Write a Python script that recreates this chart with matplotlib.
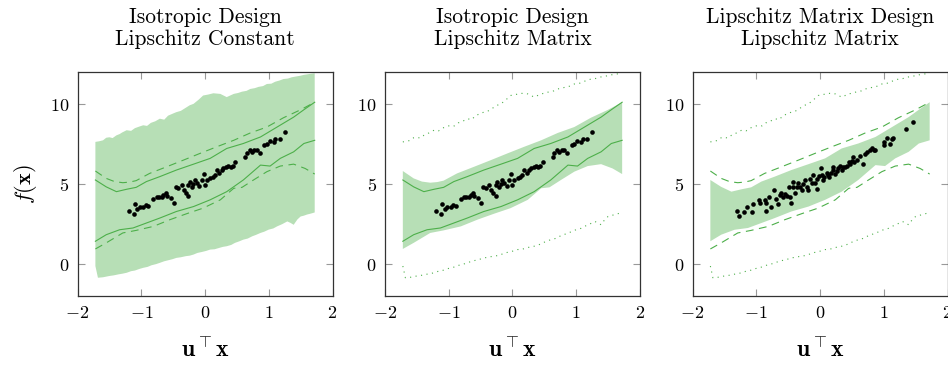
# Lipschitz bounds: isotropic vs Lipschitz-matrix designs, three panels side by side
import numpy as np
import matplotlib
matplotlib.use('Agg')
import matplotlib.pyplot as plt

plt.rcParams['font.family'] = 'cmr10'
plt.rcParams['mathtext.fontset'] = 'cm'
plt.rcParams['axes.formatter.use_mathtext'] = True

# data points, isotropic design (panels 1 and 2)
iso_x = [-1.197, -1.118, -1.102, -1.066, -1.024, -0.971, -0.929, -0.892, -0.814, -0.761,
         -0.724, -0.682, -0.656, -0.614, -0.604, -0.535, -0.488, -0.457, -0.420, -0.367,
         -0.331, -0.299, -0.262, -0.262, -0.236, -0.210, -0.184, -0.157, -0.131, -0.089,
         -0.052, -0.016, 0.000, 0.026, 0.079, 0.121, 0.157, 0.184, 0.226, 0.262,
         0.289, 0.331, 0.367, 0.404, 0.436, 0.472, 0.630, 0.656, 0.698, 0.735,
         0.772, 0.814, 0.856, 0.929, 0.971, 1.013, 1.076, 1.102, 1.171, 1.249]
iso_y = [3.35, 3.15, 3.79, 3.48, 3.62, 3.62, 3.71, 3.66, 4.08, 4.20,
         4.24, 4.20, 4.35, 4.49, 4.29, 4.14, 3.87, 4.87, 4.76, 4.97,
         4.66, 4.45, 4.29, 4.97, 5.18, 4.87, 5.03, 5.28, 5.07, 4.91,
         5.28, 5.65, 4.97, 5.28, 5.38, 5.49, 5.59, 5.90, 5.69, 5.90,
         6.00, 6.07, 6.15, 6.07, 6.15, 6.42, 6.69, 6.94, 7.14, 7.04,
         7.18, 7.14, 6.98, 7.45, 7.56, 7.72, 7.66, 7.87, 7.87, 8.28]

# data points, Lipschitz matrix design (panel 3)
lip_x = [-1.300, -1.274, -1.200, -1.147, -1.063, -1.053, -0.958, -0.947, -0.868, -0.853,
         -0.842, -0.800, -0.763, -0.726, -0.695, -0.658, -0.632, -0.605, -0.579, -0.553,
         -0.516, -0.484, -0.474, -0.463, -0.421, -0.421, -0.395, -0.368, -0.342, -0.316,
         -0.289, -0.274, -0.237, -0.211, -0.184, -0.158, -0.132, -0.105, -0.079, -0.053,
         -0.042, -0.011, 0.011, 0.026, 0.053, 0.063, 0.105, 0.132, 0.147, 0.174,
         0.200, 0.211, 0.237, 0.263, 0.289, 0.316, 0.342, 0.368, 0.395, 0.421,
         0.447, 0.474, 0.500, 0.516, 0.526, 0.579, 0.632, 0.674, 0.711, 0.737,
         0.779, 0.816, 0.842, 0.868, 1.000, 1.011, 1.053, 1.105, 1.132, 1.147,
         1.347, 1.463]
lip_y = [3.35, 3.06, 3.25, 3.62, 3.25, 3.79, 4.04, 3.83, 4.04, 3.37,
         3.87, 4.20, 3.62, 4.66, 4.08, 3.79, 4.35, 4.49, 4.24, 4.41,
         4.29, 4.87, 4.24, 3.83, 5.18, 4.87, 4.45, 4.82, 5.11, 4.87,
         4.66, 5.03, 5.28, 4.87, 4.66, 5.32, 5.11, 5.59, 5.07, 4.70,
         5.32, 5.53, 6.00, 5.59, 5.28, 5.45, 5.73, 5.59, 5.49, 5.69,
         6.07, 5.90, 5.65, 5.86, 6.00, 6.15, 5.90, 6.07, 6.07, 6.15,
         6.42, 6.31, 6.48, 6.73, 6.42, 6.52, 6.77, 6.31, 6.89, 7.04,
         7.18, 7.31, 7.18, 7.18, 7.66, 7.45, 7.93, 7.56, 7.87, 7.93,
         8.49, 8.90]

a_up_x = [-1.72, -1.66, -1.60, -1.55, -1.50, -1.45, -1.39, -1.34, -1.30, -1.23, -1.16,
          -1.10, -1.03, -0.97, -0.91, -0.85, -0.78, -0.71, -0.64, -0.58, -0.51, -0.45,
          -0.38, -0.30, -0.24, -0.18, -0.10, -0.03, 0.05, 0.13, 0.24, 0.34, 0.45,
          0.52, 0.58, 0.65, 0.71, 0.78, 0.84, 0.91, 0.97, 1.04, 1.10, 1.17, 1.23,
          1.30, 1.36, 1.43, 1.50, 1.55, 1.60, 1.66, 1.72]
a_up_y = [7.66, 7.70, 7.76, 7.92, 7.95, 7.90, 8.07, 8.15, 8.25, 8.39, 8.35,
          8.52, 8.62, 8.70, 8.66, 8.85, 8.95, 9.11, 9.05, 9.30, 9.42, 9.52,
          9.60, 9.80, 9.95, 10.04, 10.30, 10.56, 10.62, 10.70, 10.66, 10.46, 10.66,
          10.72, 10.80, 10.85, 10.97, 11.02, 11.10, 11.15, 11.28, 11.30, 11.42, 11.50, 11.59,
          11.62, 11.70, 11.75, 11.80, 11.85, 11.88, 11.92, 11.95]
a_lo_x = [-1.72, -1.68, -1.60, -1.50, -1.43, -1.36, -1.30, -1.23, -1.16, -1.10, -1.03,
          -0.97, -0.90, -0.84, -0.77, -0.71, -0.64, -0.58, -0.51, -0.45, -0.38, -0.30,
          -0.24, -0.18, -0.12, -0.05, 0.02, 0.08, 0.15, 0.21, 0.28, 0.34, 0.41,
          0.47, 0.54, 0.60, 0.67, 0.74, 0.80, 0.87, 0.93, 1.00, 1.07, 1.13, 1.21,
          1.29, 1.34, 1.39, 1.45, 1.50, 1.55, 1.60, 1.66, 1.72]
a_lo_y = [-0.10, -0.83, -0.80, -0.72, -0.68, -0.62, -0.58, -0.52, -0.42, -0.38, -0.28,
          -0.21, -0.15, -0.05, 0.02, 0.10, 0.20, 0.26, 0.33, 0.41, 0.45, 0.52,
          0.55, 0.62, 0.72, 0.78, 0.85, 0.93, 0.95, 1.02, 1.10, 1.14, 1.22,
          1.35, 1.45, 1.55, 1.62, 1.76, 1.85, 1.97, 2.05, 2.18, 2.25, 2.38, 2.52,
          2.69, 2.60, 2.48, 2.82, 3.00, 3.05, 3.12, 3.18, 3.25]

# bound B: isotropic design, Lipschitz matrix
b_up_x = [-1.72, -1.55, -1.42, -1.29, -1.18, -1.08, -0.87, -0.60, -0.34, -0.08, 0.18,
          0.45, 0.71, 0.97, 1.23, 1.50, 1.72]
b_up_y = [5.84, 5.38, 5.18, 5.11, 5.15, 5.24, 5.69, 6.11, 6.52, 6.94, 7.35,
          7.76, 8.22, 8.59, 9.17, 9.67, 10.14]
b_lo_x = [-1.72, -1.55, -1.29, -1.08, -0.81, -0.55, -0.29, -0.03, 0.24, 0.45, 0.58,
          0.76, 0.97, 1.18, 1.39, 1.57, 1.72]
b_lo_y = [0.97, 1.35, 1.97, 2.13, 2.38, 2.80, 3.17, 3.52, 4.04, 4.76, 4.82,
          5.28, 5.80, 6.15, 6.27, 6.00, 5.65]

# bound C: Lipschitz matrix design, Lipschitz matrix
c_up_x = [-1.72, -1.55, -1.39, -1.23, -1.08, -0.92, -0.71, -0.45, -0.18, 0.08, 0.34,
          0.60, 0.87, 1.13, 1.39, 1.55, 1.72]
c_up_y = [5.28, 4.85, 4.55, 4.70, 4.82, 5.18, 5.49, 5.90, 6.27, 6.63, 7.25,
          7.56, 7.97, 8.59, 9.21, 9.67, 10.14]
c_lo_x = [-1.72, -1.55, -1.34, -1.13, -0.92, -0.71, -0.45, -0.18, 0.08, 0.34, 0.60,
          0.87, 1.02, 1.18, 1.39, 1.55, 1.72]
c_lo_y = [1.45, 1.86, 2.17, 2.28, 2.59, 2.90, 3.31, 3.62, 4.04, 4.55, 5.28,
          6.21, 6.15, 6.63, 7.04, 7.56, 7.76]

titles = ['Isotropic Design\nLipschitz Constant',
          'Isotropic Design\nLipschitz Matrix',
          'Lipschitz Matrix Design\nLipschitz Matrix']

green = '#4daf4a'
bounds = {
    'A': (a_up_x, a_up_y, a_lo_x, a_lo_y),
    'B': (b_up_x, b_up_y, b_lo_x, b_lo_y),
    'C': (c_up_x, c_up_y, c_lo_x, c_lo_y),
}
styles = {'A': (0, (1, 4)), 'B': (0, (7, 5)), 'C': '-'}
# which bound is filled in each panel, and which are drawn as lines
panels = [('A', ['C', 'B']), ('B', ['A', 'C']), ('C', ['A', 'B'])]
points = [(iso_x, iso_y), (iso_x, iso_y), (lip_x, lip_y)]


def fill_bound(ax, key):
    ux, uy, lx, ly = bounds[key]
    px = list(ux) + list(lx[::-1])
    py = list(uy) + list(ly[::-1])
    ax.fill(px, py, color=green, alpha=0.4, lw=0)


def line_bound(ax, key):
    ux, uy, lx, ly = bounds[key]
    ax.plot(ux, uy, color=green, lw=0.8, linestyle=styles[key])
    ax.plot(lx, ly, color=green, lw=0.8, linestyle=styles[key])


fig = plt.figure(figsize=(9.48, 3.66), dpi=100)
lefts = [0.0818, 0.4061, 0.7305]

for i, (fk, lks) in enumerate(panels):
    ax = fig.add_axes([lefts[i], 0.19, 0.269, 0.612])
    fill_bound(ax, fk)
    for k in lks:
        line_bound(ax, k)
    ax.scatter(points[i][0], points[i][1], s=11, color='black', zorder=5, lw=0)

    ax.set_xlim(-2, 2)
    ax.set_ylim(-2, 12)
    ax.set_xticks([-2, -1, 0, 1, 2])
    ax.set_yticks([0, 5, 10])
    ax.tick_params(direction='in', top=True, right=True, length=5, width=0.8,
                   color='#999999', labelsize=13, pad=6)
    for s in ax.spines.values():
        s.set_linewidth(0.9)
        s.set_color('#333333')
    ax.set_title(titles[i], fontsize=15.5, pad=20, linespacing=1.12)
    ax.set_xlabel(r'$\mathbf{u}^\top\mathbf{x}$', fontsize=17, labelpad=12)
    if i == 0:
        ax.set_ylabel(r'$f(\mathbf{x})$', fontsize=16, labelpad=8)

plt.savefig('out.png', dpi=100)
